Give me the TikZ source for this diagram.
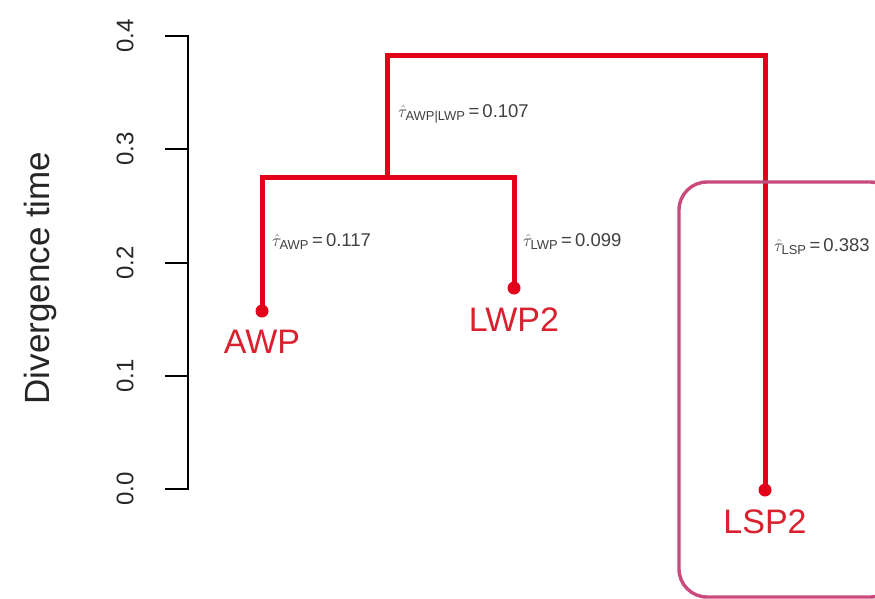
\documentclass[tikz,border=0pt]{standalone}
\usepackage{fontspec}
\usepackage{amsmath}
\setmainfont{Liberation Sans}
\definecolor{treered}{HTML}{E2001A}
\definecolor{boxpink}{HTML}{C94A7C}
\definecolor{labred}{HTML}{D8202E}
\begin{document}
\begin{tikzpicture}[x=1pt,y=-1pt,
  branch/.style={treered,line width=5pt},
  tip/.style={circle,fill=treered,inner sep=0pt,minimum size=13pt},
  taxon/.style={labred,font=\fontsize{34}{36}\selectfont,inner sep=0pt},
  est/.style={font=\fontsize{18.5}{20}\selectfont,anchor=west,inner sep=0pt,text=black!75},
  ticklab/.style={font=\fontsize{24}{26}\selectfont,rotate=90,inner sep=0pt,text=black!85},
  axis/.style={black,line width=2.6pt}]
\useasboundingbox (0,0) rectangle (875,599);
% axis
\coordinate (a0) at (188,489);
\coordinate (a4) at (188,36);
\draw[axis,line cap=rect] (a0) -- (a4);
\foreach \v/\y in {0.0/489,0.1/376,0.2/263,0.3/149,0.4/36}{
  \draw[axis] (165,\y) -- (188,\y);
  \node[ticklab] (t\v) at (125,\y) {\v};
}
\node[rotate=90,font=\fontsize{35}{38}\selectfont,inner sep=0pt,text=black!85] (ytitle) at (40,278) {Divergence time};
% tree coordinates
\coordinate (rootL) at (387,56);
\coordinate (rootR) at (765,56);
\coordinate (inner) at (387,177);
\coordinate (innL) at (262,177);
\coordinate (innR) at (514,177);
\node[tip] (awp) at (262,311) {};
\node[tip] (lwp) at (514,288) {};
\node[tip] (lsp) at (765,490) {};
% branches
\draw[branch,line cap=rect] (awp.center) -- (innL) -- (innR) -- (lwp.center);
\draw[branch,line cap=rect] (inner) -- (rootL) -- (rootR) -- (lsp.center);
% taxon labels
\node[taxon] (awpL) at (262,342) {AWP};
\node[taxon] (lwpL) at (514,320) {LWP2};
\node[taxon] (lspL) at (765,522) {LSP2};
% branch estimates
\node[est] (e1) at (398,114) {$\hat{\tau}_{\text{AWP|LWP}}$\,=\,0.107};
\node[est] (e2) at (272,242) {$\hat{\tau}_{\text{AWP}}$\,=\,0.117};
\node[est] (e3) at (523,242) {$\hat{\tau}_{\text{LWP}}$\,=\,0.099};
\node[est] (e4) at (774,247) {$\hat{\tau}_{\text{LSP}}$\,=\,0.383};
% highlight box
\draw[boxpink,line width=3.4pt,rounded corners=28pt] (679,182) rectangle (898,597);
\end{tikzpicture}
\end{document}
